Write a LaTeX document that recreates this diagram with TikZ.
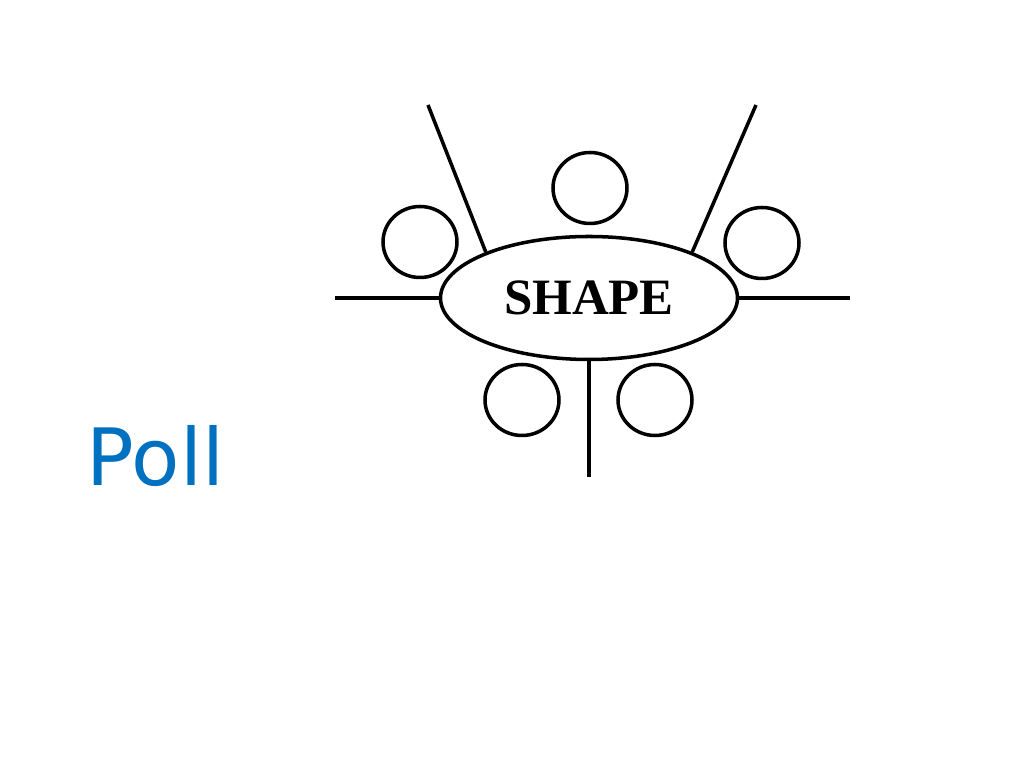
\documentclass[tikz,border=0pt]{standalone}
\usepackage{fontspec}
\usepackage{tikz}
\usetikzlibrary{shapes.geometric}
\setmainfont{Liberation Serif}
\newfontfamily\pollfont{DejaVu Sans}
\definecolor{pollblue}{HTML}{0070C0}
\tikzstyle{table}=[ellipse,draw,line width=1pt,minimum width=2.97cm,minimum height=1.23cm,inner sep=0pt,font=\fontsize{14.5}{16}\selectfont\bfseries]
\tikzstyle{seat}=[ellipse,draw,line width=1pt,minimum width=0.74cm,minimum height=0.71cm,inner sep=0pt]
\tikzstyle{wall}=[line width=1pt]

\begin{document}
\begin{tikzpicture}
  \useasboundingbox (0,0) rectangle (10.24,7.68);

  \node[table] (T) at (5.89,4.70) {SHAPE};
  \node[seat] (S1) at (5.90,5.80) {};
  \node[seat] (S2) at (4.20,5.26) {};
  \node[seat] (S3) at (7.62,5.25) {};
  \node[seat] (S4) at (5.22,3.68) {};
  \node[seat] (S5) at (6.55,3.68) {};

  \coordinate (WL) at (3.35,4.70);
  \coordinate (WR) at (8.50,4.70);
  \coordinate (WB) at (5.89,2.91);
  \coordinate (DL) at (4.28,6.63);
  \coordinate (DR) at (7.56,6.63);

  \draw[wall] (WL)--(T.west); \draw[wall] (T.east)--(WR);
  \draw[wall] (T.south)--(WB);
  \draw[wall] (DL)--(T.156); \draw[wall] (DR)--(T.24);
  %
  \node[text=pollblue,font=\pollfont\fontsize{22.5}{25}\selectfont,anchor=base west,inner sep=0pt] (poll) at (0.86,2.82) {Poll};

 \end{tikzpicture}
\end{document}
